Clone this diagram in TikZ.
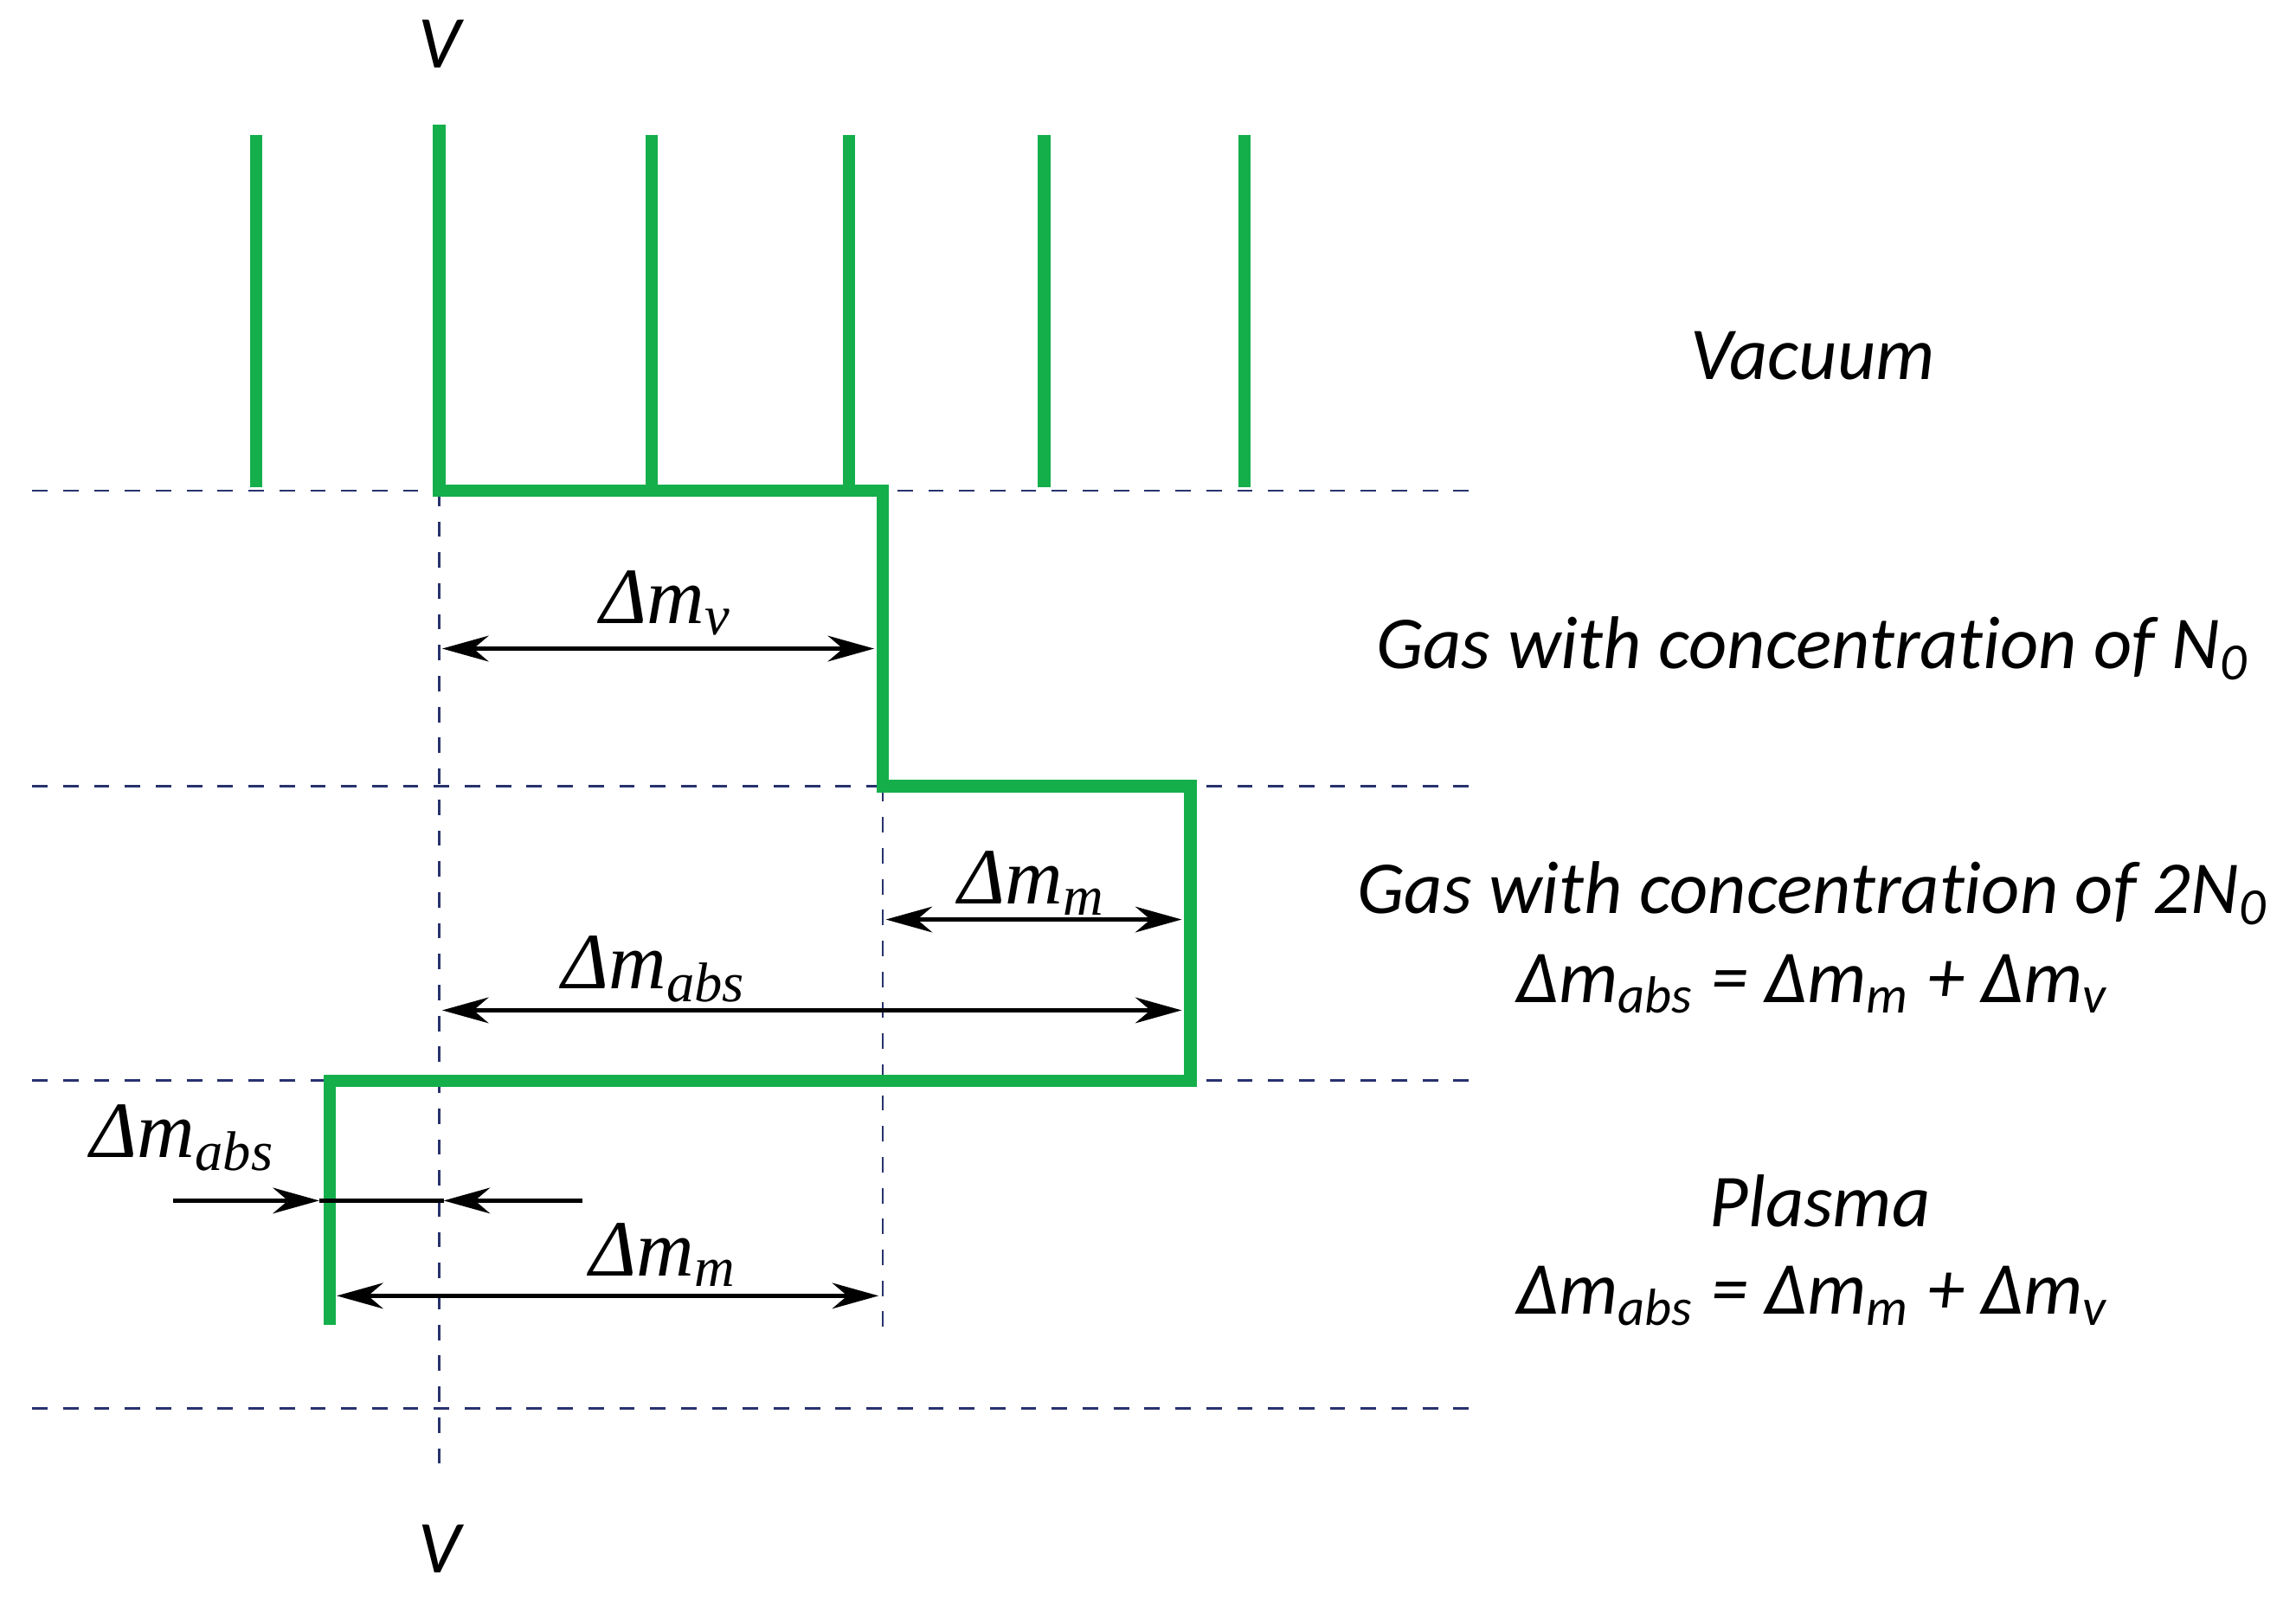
\documentclass[tikz,border=0pt]{standalone}
\usepackage{fontspec}
\setmainfont[Ligatures={NoCommon}]{Carlito}
\newfontfamily\serifit[ItalicFont={Liberation Serif Italic}]{Liberation Serif}
\usetikzlibrary{arrows.meta}
\definecolor{dashblue}{RGB}{40,50,110}
\definecolor{stepgreen}{RGB}{20,175,75}
\newcommand{\dmtext}[1]{Δm\textsubscript{#1}}
\newcommand{\dmserif}[1]{{\serifit\itshape Δm\textsubscript{#1}}}
\tikzset{
  level line/.style={draw=dashblue, dashed, thin},
  green step/.style={draw=stepgreen, line width=2.4pt},
  dim arrow/.style={draw=black, thick},
  side text/.style={font=\fontsize{14.5}{18}\selectfont\itshape, inner sep=1pt},
  dm label/.style={font=\fontsize{15.5}{18}\selectfont, inner sep=1pt}
}
\begin{document}
\begin{tikzpicture}[x=0.01cm,y=-0.01cm]
  \useasboundingbox (0,0) rectangle (1568,1097);
  % levels
  \begin{scope}
    \coordinate (L1a) at (22,335);  \coordinate (L1b) at (1005,335);
    \coordinate (L2a) at (22,537);  \coordinate (L2b) at (1005,537);
    \coordinate (L3a) at (22,738);  \coordinate (L3b) at (1005,738);
    \coordinate (L4a) at (22,962);  \coordinate (L4b) at (1005,962);
    \coordinate (Vt) at (300,335);  \coordinate (Vb) at (300,1010);
    \coordinate (Mt) at (603,537);  \coordinate (Mb) at (603,915);
  \end{scope}
  \foreach \l in {L1,L2,L3,L4}
    \draw [level line] (\l a) -- (\l b);
  \draw [level line] (Vt) -- (Vb);
  \draw [level line] (Mt) -- (Mb);
  % spikes
  \foreach \x in {175,445,580,713,850}
    \draw [green step] (\x,92) -- (\x,333);
  \draw [green step] (300,85) -- (300,335) -- (603,335) -- (603,537) -- (813,537)
    -- (813,738) -- (225,738) -- (225,905);
  % labels
  \begin{scope}[every node/.style={side text}]
    \node (Vtop) at (300,30) {V};
    \node (Vbot) at (300,1058) {V};
    \node (vac) at (1238,243) {Vacuum};
    \node (gas1) at (1238,443) {Gas with concentration of N\textsubscript{0}};
    \node (gas2) at (1238,610) {Gas with concentration of 2N\textsubscript{0}};
    \node (eq1) at (1238,672) {\dmtext{abs} = \dmtext{m} + \dmtext{v}};
    \node (pla) at (1243,820) {Plasma};
    \node (eq2) at (1238,885) {\dmtext{abs} = \dmtext{m} + \dmtext{v}};
  \end{scope}
  \begin{scope}[every node/.style={dm label}]
    \node (dmv) at (455,412) {\dmserif{v}};
    \node (dmm) at (705,603) {\dmserif{m}};
    \node (dma) at (447,662) {\dmserif{abs}};
    \node (dmb) at (125,777) {\dmserif{abs}};
    \node (dmn) at (453,857) {\dmserif{m}};
  \end{scope}
  % dimension arrows
  \begin{scope}[>={Stealth[length=9pt,width=5pt]}]
    \coordinate (a1) at (302,443); \coordinate (a2) at (597,443);
    \coordinate (b1) at (605,628); \coordinate (b2) at (807,628);
    \coordinate (c1) at (302,690); \coordinate (c2) at (807,690);
    \coordinate (d1) at (118,820); \coordinate (d2) at (218,820);
    \coordinate (d3) at (398,820); \coordinate (d4) at (303,820);
    \coordinate (e1) at (230,885); \coordinate (e2) at (600,885);
    \draw [dim arrow, <->] (a1) -- (a2);
    \draw [dim arrow, <->] (b1) -- (b2);
    \draw [dim arrow, <->] (c1) -- (c2);
    \draw [dim arrow, ->] (d1) -- (d2);
    \draw [dim arrow, ->] (d3) -- (d4);
    \draw [dim arrow] (d2) -- (d4);
    \draw [dim arrow, <->] (e1) -- (e2);
  \end{scope}
\end{tikzpicture}
\end{document}
